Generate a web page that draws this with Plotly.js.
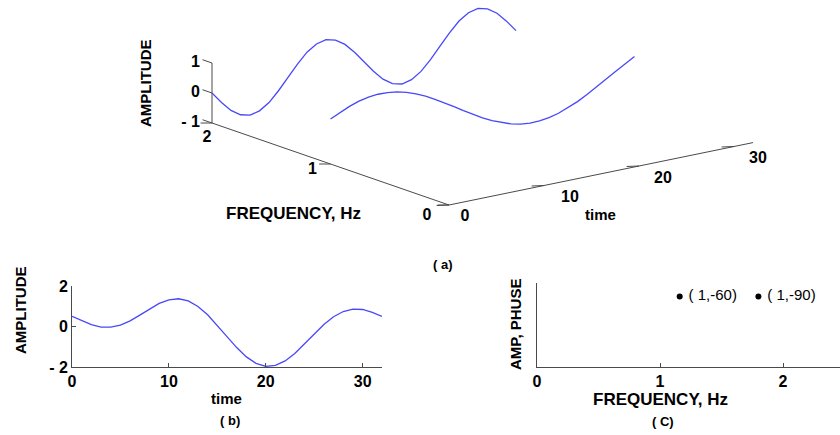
<!DOCTYPE html>
<html>
<head>
<meta charset="utf-8">
<script src="https://cdn.plot.ly/plotly-3.0.1.min.js"></script>
<style>html,body{margin:0;padding:0;background:#fff}#chart{width:840px;height:435px}</style>
</head>
<body>
<div id="chart"></div>
<script>
// ---------- data ----------
const time = [0,1,2,3,4,5,6,7,8,9,10,11,12,13,14,15,16,17,18,19,20,21,22,23,24,25,26,27,28,29,30,31,32];
// component at 1 Hz (amplitude 1, phase -60)
const amp1Hz = [0.50,0.66,0.79,0.90,0.97,1.00,0.99,0.95,0.87,0.75,0.61,0.44,0.26,0.07,-0.13,-0.32,-0.50,-0.66,-0.79,-0.90,-0.97,-1.00,-0.99,-0.95,-0.87,-0.75,-0.61,-0.44,-0.26,-0.07,0.13,0.32,0.50];
// component at 2 Hz (amplitude 1, phase -90)
const amp2Hz = [0.00,-0.38,-0.71,-0.92,-1.00,-0.92,-0.71,-0.38,0.00,0.38,0.71,0.92,1.00,0.92,0.71,0.38,0.00,-0.38,-0.71,-0.92,-1.00,-0.92,-0.71,-0.38,0.00,0.38,0.71,0.92,1.00,0.92,0.71,0.38,0.00];
// resulting signal (panel b)
const ampSum = [0.50,0.28,0.09,-0.03,-0.03,0.07,0.28,0.56,0.87,1.14,1.32,1.37,1.26,0.99,0.58,0.06,-0.50,-1.04,-1.50,-1.82,-1.97,-1.92,-1.70,-1.33,-0.87,-0.37,0.10,0.48,0.74,0.86,0.84,0.70,0.50];
// spectrum (panel c)
const specFreq = [1, 2];
const specAmp = [1, 1];
const specPhase = [-60, -90];
// tick labels
const timeTicks3d = [0,10,20,30];
const freqTicks3d = [0,1,2];
const ampTicks3d = [-1,0,1];
const ampTickText3d = ['- 1','0','1'];
const timeTicksB = [0,10,20,30];
const ampTicksB = [-2,0,2];
const ampTickTextB = ['- 2','0','2'];
const freqTicksC = [0,1,2];

// ---------- styles ----------
const W = 840, H = 435;
const blue = 'rgb(72,72,250)';
const axCol = '#4a4a4a';
const FAM = '"Liberation Sans", Arial, sans-serif';
const bold = (s) => ({family: FAM, size: s, color: '#000', weight: 700});

// oblique projection for panel (a): (time, freq, amp) -> pixel
const TOP_H = 250;
function P(t, f, a) {
  return [449 + 9.5 * t - 118.5 * f, 205 - 1.95 * t - 41 * f - 30 * (a + 1)];
}
function curve(f, vals) {
  const pts = time.map((t, i) => P(t, f, vals[i]));
  return {x: pts.map(p => p[0]), y: pts.map(p => p[1])};
}
const traces = [];
const topA = {xaxis: 'x3', yaxis: 'y3', hoverinfo: 'skip', showlegend: false};

// axes lines of panel a
const tEnd = time[time.length - 1];
const axA = [P(0, 0, -1), P(tEnd, 0, -1)];
const axF = [P(0, 0, -1), P(0, 2, -1)];
const axZ = [P(0, 2, -1), P(0, 2, 1)];
traces.push(Object.assign({type: 'scatter', mode: 'lines',
  x: [axA[0][0], axA[1][0], null, axF[0][0], axF[1][0], null, axZ[0][0], axZ[1][0]],
  y: [axA[0][1], axA[1][1], null, axF[0][1], axF[1][1], null, axZ[0][1], axZ[1][1]],
  line: {color: axCol, width: 1}}, topA));
// tick marks
const tx = [], ty = [];
timeTicks3d.forEach(t => { const a = P(t, 0, -1), b = P(t - 1.3, 0, -1); tx.push(a[0], b[0], null); ty.push(a[1], a[1] + 0.5, null); });
freqTicks3d.forEach(f => { const a = P(0, f, -1), b = P(-1.2, f, -1); tx.push(a[0], b[0], null); ty.push(a[1], a[1], null); });
ampTicks3d.forEach(v => { const a = P(0, 2, v), b = P(0, 2.08, v); tx.push(a[0], b[0], null); ty.push(a[1], b[1], null); });
traces.push(Object.assign({type: 'scatter', mode: 'lines', x: tx, y: ty, line: {color: axCol, width: 1}}, topA));

// curves
const c2 = curve(2, amp2Hz), c1 = curve(1, amp1Hz);
traces.push(Object.assign({type: 'scatter', mode: 'lines', x: c2.x, y: c2.y, line: {color: blue, width: 1.3}}, topA));
traces.push(Object.assign({type: 'scatter', mode: 'lines', x: c1.x, y: c1.y, line: {color: blue, width: 1.3}}, topA));

// tick labels panel a
const timeOff = [[16, 12], [26, 12.5], [24, 13], [24, 12.5]];
traces.push(Object.assign({type: 'scatter', mode: 'text',
  x: timeTicks3d.map((t, i) => P(t, 0, -1)[0] + timeOff[i][0]),
  y: timeTicks3d.map((t, i) => P(t, 0, -1)[1] + timeOff[i][1]),
  text: timeTicks3d.map(String), textposition: 'middle center', textfont: bold(16)}, topA));
const freqOff = [[-22, 11], [-18, 6], [-5, 15]];
traces.push(Object.assign({type: 'scatter', mode: 'text',
  x: freqTicks3d.map((f, i) => P(0, f, -1)[0] + freqOff[i][0]),
  y: freqTicks3d.map((f, i) => P(0, f, -1)[1] + freqOff[i][1]),
  text: freqTicks3d.map(String), textposition: 'middle center', textfont: bold(16)}, topA));
traces.push(Object.assign({type: 'scatter', mode: 'text',
  x: ampTicks3d.map(v => P(0, 2, v)[0] - 12),
  y: ampTicks3d.map(v => P(0, 2, v)[1]),
  text: ampTickText3d, textposition: 'middle left', textfont: bold(16)}, topA));

// panel b
traces.push({type: 'scatter', mode: 'lines', x: time, y: ampSum, xaxis: 'x', yaxis: 'y',
  line: {color: blue, width: 1.3}, hoverinfo: 'skip', showlegend: false});

// panel c : labels of spectrum lines
const labelX = [1.16, 1.8];
const labelY = [0.84, 0.84];
traces.push({type: 'scatter', mode: 'markers+text', xaxis: 'x2', yaxis: 'y2',
  x: labelX, y: labelY,
  text: specFreq.map((f, i) => ' ( ' + specAmp[i] + ',' + specPhase[i] + ')'),
  textposition: 'middle right', textfont: {family: FAM, size: 15, color: '#000'},
  marker: {color: '#000', size: 6}, hoverinfo: 'skip', showlegend: false, cliponaxis: false});

const px = (v) => v / W, py = (v) => 1 - v / H;
const baseAx = {showline: true, linecolor: axCol, linewidth: 1, mirror: false, showgrid: false,
  zeroline: false, ticks: 'inside', ticklen: 4, tickcolor: axCol, tickfont: bold(16), fixedrange: true};

const layout = {
  width: W, height: H, margin: {l: 0, r: 0, t: 0, b: 0},
  paper_bgcolor: '#fff', plot_bgcolor: 'rgba(0,0,0,0)', showlegend: false,
  xaxis: Object.assign({}, baseAx, {domain: [px(72), px(382)], range: [0, 32], tickvals: timeTicksB, anchor: 'y'}),
  yaxis: Object.assign({}, baseAx, {domain: [py(367), py(286)], range: [-2, 2], tickvals: ampTicksB, ticktext: ampTickTextB, anchor: 'x'}),
  xaxis2: Object.assign({}, baseAx, {domain: [px(537), 1], range: [0, 303 / 123], tickvals: freqTicksC, anchor: 'y2'}),
  yaxis2: Object.assign({}, baseAx, {domain: [py(367), py(283)], range: [0, 1], showticklabels: false, ticks: '', anchor: 'x2'}),
  xaxis3: {domain: [0, 1], range: [0, W], visible: false, fixedrange: true, anchor: 'y3'},
  yaxis3: {domain: [1 - TOP_H / H, 1], range: [TOP_H, 0], visible: false, fixedrange: true, anchor: 'x3'},
  annotations: [
    {text: 'AMPLITUDE', x: px(145), y: py(83), textangle: -90, font: bold(15)},
    {text: 'FREQUENCY, Hz', x: px(293), y: py(213), font: bold(17)},
    {text: 'time', x: px(600), y: py(214), font: bold(15)},
    {text: '( a)', x: px(443), y: py(264), font: bold(13)},
    {text: 'AMPLITUDE', x: px(20), y: py(310), textangle: -90, font: bold(15)},
    {text: 'time', x: px(226), y: py(398), font: bold(15)},
    {text: '( b)', x: px(230), y: py(420), font: bold(13)},
    {text: 'AMP, PHUSE', x: px(515), y: py(325), textangle: -90, font: bold(15)},
    {text: 'FREQUENCY, Hz', x: px(660), y: py(399), font: bold(17)},
    {text: '( C)', x: px(663), y: py(421), font: bold(13)}
  ].map(a => Object.assign({xref: 'paper', yref: 'paper', showarrow: false, xanchor: 'center', yanchor: 'middle'}, a))
};

Plotly.newPlot('chart', traces, layout, {staticPlot: true, displayModeBar: false});
</script>
</body>
</html>
